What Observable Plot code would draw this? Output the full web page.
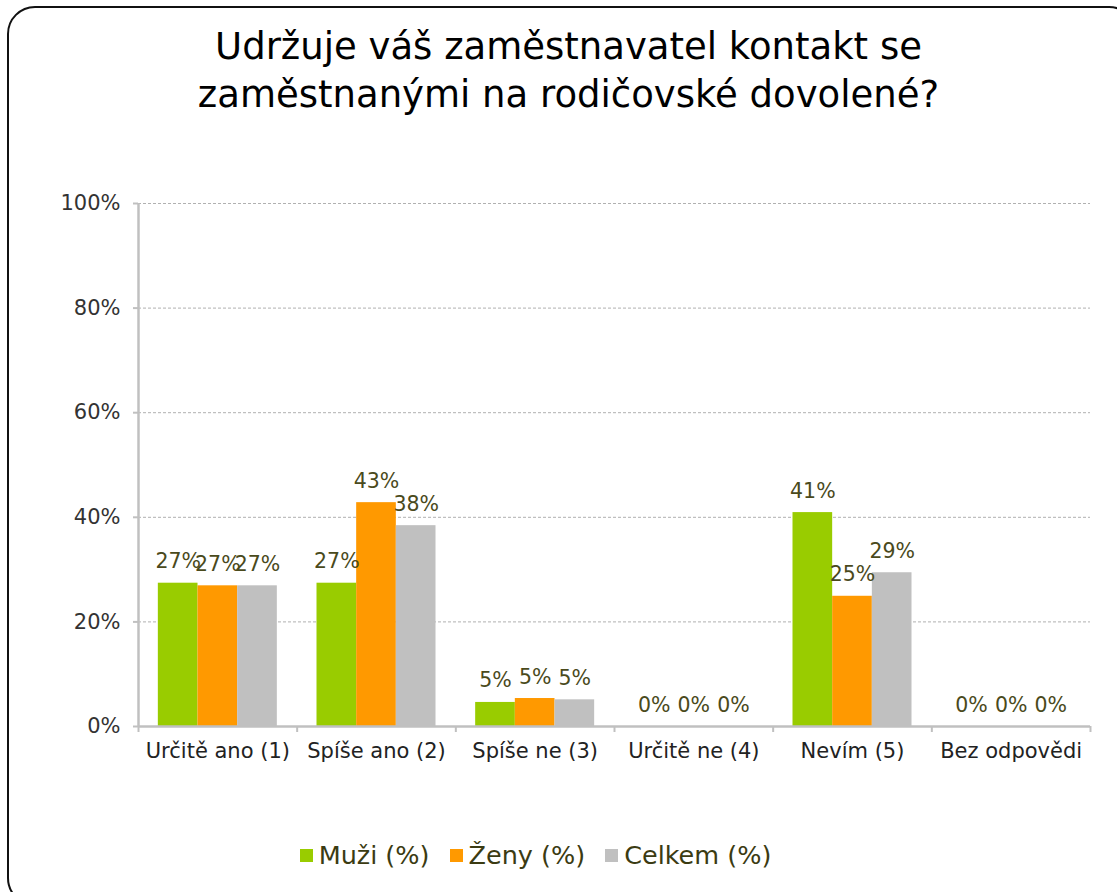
<!DOCTYPE html>
<html>
<head>
<meta charset="utf-8">
<script src="https://cdn.jsdelivr.net/npm/d3@7"></script>
<script src="https://cdn.jsdelivr.net/npm/@observablehq/plot@0.6"></script>
<style>
  html, body { margin: 0; padding: 0; background: #fff; width: 1117px; height: 892px; overflow: hidden; position: relative; font-family: "DejaVu Sans", sans-serif; }
  #frame { position: absolute; left: 7px; top: 6px; width: 1130px; height: 900px; border: 2px solid #111; border-radius: 28px; box-sizing: border-box; }
  #title { position: absolute; left: 0; top: 23px; width: 1117px; text-align: center; font-size: 37px; line-height: 48px; color: #000; padding-left: 20px; box-sizing: border-box; }
  #chart { position: absolute; left: 0; top: 180px; }
  #legend { position: absolute; left: 0; top: 840px; width: 1117px; text-align: center; font-size: 25.5px; color: #3b3b12; padding-right: 46px; box-sizing: border-box; }
  #legend span.item { display: inline-block; margin: 0 10px; }
  #legend span.sw { display: inline-block; width: 13px; height: 13px; margin-right: 6px; vertical-align: 2px; }
</style>
</head>
<body>
<div id="frame"></div>
<div id="title">Udržuje váš zaměstnavatel kontakt se<br>zaměstnanými na rodičovské dovolené?</div>
<div id="chart"></div>
<div id="legend"></div>
<script>
const categories = ["Určitě ano (1)", "Spíše ano (2)", "Spíše ne (3)", "Určitě ne (4)", "Nevím (5)", "Bez odpovědi"];
const series = ["Muži (%)", "Ženy (%)", "Celkem (%)"];
const colors = ["#99CC00", "#FF9900", "#C0C0C0"];
const muzi   = [27.4, 27.4, 4.6, 0, 40.9, 0];
const zeny   = [26.9, 42.8, 5.35, 0, 24.9, 0];
const celkem = [26.9, 38.4, 5.1, 0, 29.4, 0];
const yTicks = [0, 20, 40, 60, 80, 100];

const values = [muzi, zeny, celkem];
const nS = series.length;
const barW = 1 / (nS + 1);
const rows = [];
categories.forEach((c, i) => {
  series.forEach((s, j) => {
    const x1 = i + barW / 2 + j * barW;
    rows.push({cat: c, series: s, value: values[j][i], x1, x2: x1 + barW, xc: x1 + barW / 2});
  });
});
const boundaries = d3.range(categories.length + 1);
const centers = categories.map((c, i) => i + 0.5);

const plot = Plot.plot({
  width: 1117,
  height: 596,
  marginLeft: 138,
  marginRight: 27,
  marginTop: 23,
  marginBottom: 50,
  style: {fontFamily: "DejaVu Sans, sans-serif", background: "transparent", overflow: "visible"},
  x: {type: "linear", domain: [0, categories.length]},
  y: {domain: [0, 100]},
  color: {domain: series, range: colors},
  marks: [
    Plot.gridY(yTicks.filter(d => d > 0), {stroke: "#b0b0b0", strokeOpacity: 1, strokeDasharray: "3,2", strokeWidth: 1}),
    Plot.rectY(rows, {x1: "x1", x2: "x2", y1: 0, y2: "value", fill: "series"}),
    Plot.ruleX([0], {stroke: "#c0c0c0", strokeWidth: 2.5}),
    Plot.ruleY([0], {stroke: "#c0c0c0", strokeWidth: 2.5}),
    Plot.axisY({ticks: yTicks, tickFormat: d => d + "%", tickSize: 5, tickPadding: 13, stroke: "#c0c0c0", strokeWidth: 2, fontSize: 21, fill: "#333", label: null}),
    Plot.axisX({ticks: boundaries, tickFormat: () => "", tickSize: 6, stroke: "#c0c0c0", strokeWidth: 2, label: null}),
    Plot.axisX({ticks: centers, tickFormat: d => categories[Math.floor(d)], tickSize: 0, tickPadding: 17, fontSize: 21, fill: "#222", label: null}),
    Plot.text(rows, {x: "xc", y: "value", text: d => Math.round(d.value) + "%", lineAnchor: "bottom", dy: -15, fontSize: 20.5, fill: "#4a4a1c"})
  ]
});
document.getElementById("chart").appendChild(plot);

const legend = document.getElementById("legend");
series.forEach((s, j) => {
  const item = document.createElement("span");
  item.className = "item";
  const sw = document.createElement("span");
  sw.className = "sw";
  sw.style.background = colors[j];
  item.appendChild(sw);
  item.appendChild(document.createTextNode(s));
  legend.appendChild(item);
});
</script>
</body>
</html>
